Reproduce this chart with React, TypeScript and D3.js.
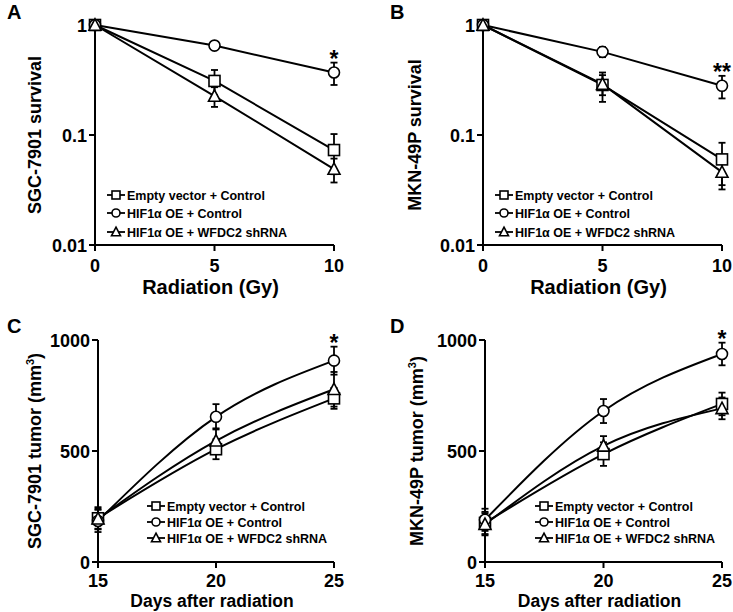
import React from "react";
import * as d3 from "d3";

const xRadiation = [0, 5, 10];
const xDays = [15, 20, 25];
const seriesNames = ["Empty vector + Control", "HIF1α OE + Control", "HIF1α OE + WFDC2 shRNA"];
const markers = ["square", "circle", "triangle"];

// Panel A (SGC-7901 survival)
const aEmpty = [1, 0.31, 0.073];
const aEmptyErr = [0, 0.08, 0.029];
const aHif = [1, 0.65, 0.37];
const aHifErr = [0, 0.03, 0.085];
const aShrna = [1, 0.226, 0.049];
const aShrnaErr = [0, 0.046, 0.012];

// Panel B (MKN-49P survival)
const bEmpty = [1, 0.285, 0.06];
const bEmptyErr = [0, 0.085, 0.025];
const bHif = [1, 0.57, 0.28];
const bHifErr = [0, 0.06, 0.065];
const bShrna = [1, 0.29, 0.046];
const bShrnaErr = [0, 0.06, 0.014];

// Panel C (SGC-7901 tumor)
const cEmpty = [197, 508, 737];
const cEmptyErr = [50, 45, 47];
const cHif = [185, 654, 907];
const cHifErr = [50, 57, 63];
const cShrna = [195, 546, 778];
const cShrnaErr = [45, 56, 78];

// Panel D (MKN-49P tumor)
const dEmpty = [176, 486, 712];
const dEmptyErr = [50, 53, 51];
const dHif = [190, 680, 937];
const dHifErr = [50, 54, 51];
const dShrna = [170, 523, 692];
const dShrnaErr = [50, 44, 49];

const logTicks = [0.01, 0.1, 1];
const logTickLabels = ["0.01", "0.1", "1"];
const linTicks = [0, 500, 1000];
const linTickLabels = ["0", "500", "1000"];

const FONT = "'Liberation Sans', Arial, Helvetica, sans-serif";

function Marker({ type, x, y, s }: { type: string; x: number; y: number; s: number }) {
  const sw = 1.6;
  if (type === "square")
    return <rect x={x - s / 2} y={y - s / 2} width={s} height={s} fill="#fff" stroke="#000" strokeWidth={sw} />;
  if (type === "circle") return <circle cx={x} cy={y} r={s / 2} fill="#fff" stroke="#000" strokeWidth={sw} />;
  const h = s * 0.95;
  const p = d3.path();
  p.moveTo(x, y - h / 2 - 1);
  p.lineTo(x + s / 2 + 0.5, y + h / 2);
  p.lineTo(x - s / 2 - 0.5, y + h / 2);
  p.closePath();
  return <path d={p.toString()} fill="#fff" stroke="#000" strokeWidth={sw} />;
}

type PanelProps = {
  letter: string;
  letterX: number;
  letterY: number;
  xValues: number[];
  xRange: [number, number];
  yLog: boolean;
  yRange: [number, number];
  series: number[][];
  errors: number[][];
  yTicks: number[];
  yTickLabels: string[];
  yTitle: React.ReactNode;
  yTitleX: number;
  xTitle: string;
  xTitleSize: number;
  xTitleDy: number;
  xTickDy: number;
  legendX: number;
  legendY: number[];
  star: string;
  curved: boolean;
};

function Panel(p: PanelProps) {
  const x = d3.scaleLinear().domain([p.xValues[0], p.xValues[p.xValues.length - 1]]).range(p.xRange);
  const y = p.yLog
    ? d3.scaleLog().domain([0.01, 1]).range(p.yRange)
    : d3.scaleLinear().domain([0, 1000]).range(p.yRange);
  const line = d3
    .line<number>()
    .x((_, i) => x(p.xValues[i]))
    .y((d) => y(d))
    .curve(p.curved ? d3.curveMonotoneX : d3.curveLinear);
  const x0 = p.xRange[0];
  const x1 = p.xRange[1];
  const yb = p.yRange[0];
  const yt = p.yRange[1];
  const tick = 6;
  const cap = 3.5;
  const starSeries = 1;
  const lastI = p.xValues.length - 1;
  const starUpper = y(p.series[starSeries][lastI] + p.errors[starSeries][lastI]);
  const yMid = (yb + yt) / 2;
  return (
    <g fontFamily={FONT} fontWeight="bold">
      <text x={p.letterX} y={p.letterY} fontSize={20}>
        {p.letter}
      </text>
      {p.series.map((s, k) => (
        <path key={"l" + k} d={line(s) || ""} fill="none" stroke="#000" strokeWidth={2} />
      ))}
      <line x1={x0} x2={x0} y1={yt} y2={yb} stroke="#000" strokeWidth={2} />
      <line x1={x0 - tick} x2={x1} y1={yb} y2={yb} stroke="#000" strokeWidth={2} />
      {p.yTicks.map((t, i) => (
        <g key={"yt" + i}>
          <line x1={x0 - tick} x2={x0} y1={y(t)} y2={y(t)} stroke="#000" strokeWidth={2} />
          <text x={x0 - 8} y={y(t) + 6.5} fontSize={18} textAnchor="end">
            {p.yTickLabels[i]}
          </text>
        </g>
      ))}
      {p.xValues.map((t, i) => (
        <g key={"xt" + i}>
          <line x1={x(t)} x2={x(t)} y1={yb} y2={yb + tick} stroke="#000" strokeWidth={2} />
          <text x={x(t)} y={yb + p.xTickDy} fontSize={18} textAnchor="middle">
            {t}
          </text>
        </g>
      ))}
      <text x={(x0 + x1) / 2 - 4} y={yb + p.xTitleDy} fontSize={p.xTitleSize} textAnchor="middle">
        {p.xTitle}
      </text>
      <text
        transform={`translate(${p.yTitleX},${yMid}) rotate(-90)`}
        fontSize={18}
        textAnchor="middle"
      >
        {p.yTitle}
      </text>
      {p.series.map((s, k) =>
        s.map((v, i) => {
          const e = p.errors[k][i];
          if (!e) return null;
          const cx = x(p.xValues[i]);
          const lo = y(Math.max(v - e, 0.0001));
          const hi = y(v + e);
          return (
            <g key={"e" + k + "-" + i} stroke="#000" strokeWidth={1.8}>
              <line x1={cx} x2={cx} y1={lo} y2={hi} />
              <line x1={cx - cap} x2={cx + cap} y1={lo} y2={lo} />
              <line x1={cx - cap} x2={cx + cap} y1={hi} y2={hi} />
            </g>
          );
        })
      )}
      {p.series.map((s, k) =>
        s.map((v, i) => (
          <Marker key={"m" + k + "-" + i} type={markers[k]} x={x(p.xValues[i])} y={y(v)} s={11} />
        ))
      )}
      <text x={x(p.xValues[lastI])} y={starUpper + 4} fontSize={23} textAnchor="middle">
        {p.star}
      </text>
      {seriesNames.map((n, k) => (
        <g key={"lg" + k}>
          <line x1={p.legendX} x2={p.legendX + 18} y1={p.legendY[k]} y2={p.legendY[k]} stroke="#000" strokeWidth={1.8} />
          <Marker type={markers[k]} x={p.legendX + 9} y={p.legendY[k]} s={8} />
          <text x={p.legendX + 20} y={p.legendY[k] + 4.5} fontSize={12.5}>
            {n}
          </text>
        </g>
      ))}
    </g>
  );
}

export default function App() {
  return (
    <svg
      width={733}
      height={612}
      style={{ position: "absolute", left: 0, top: 0, background: "#fff" }}
    >
      <rect width={733} height={612} fill="#fff" />
      <Panel
        letter="A"
        letterX={7}
        letterY={19}
        xValues={xRadiation}
        xRange={[95, 334]}
        yLog={true}
        yRange={[245, 25]}
        series={[aEmpty, aHif, aShrna]}
        errors={[aEmptyErr, aHifErr, aShrnaErr]}
        yTicks={logTicks}
        yTickLabels={logTickLabels}
        yTitle="SGC-7901 survival"
        yTitleX={41}
        xTitle="Radiation (Gy)"
        xTitleSize={20}
        xTitleDy={49}
        xTickDy={27}
        legendX={107}
        legendY={[195, 213, 232]}
        star="*"
        curved={false}
      />
      <Panel
        letter="B"
        letterX={390}
        letterY={19}
        xValues={xRadiation}
        xRange={[483, 722]}
        yLog={true}
        yRange={[245, 25]}
        series={[bEmpty, bHif, bShrna]}
        errors={[bEmptyErr, bHifErr, bShrnaErr]}
        yTicks={logTicks}
        yTickLabels={logTickLabels}
        yTitle="MKN-49P survival"
        yTitleX={421}
        xTitle="Radiation (Gy)"
        xTitleSize={20}
        xTitleDy={49}
        xTickDy={27}
        legendX={495}
        legendY={[195, 213, 232]}
        star="**"
        curved={false}
      />
      <Panel
        letter="C"
        letterX={7}
        letterY={333}
        xValues={xDays}
        xRange={[98, 334]}
        yLog={false}
        yRange={[562, 340]}
        series={[cEmpty, cHif, cShrna]}
        errors={[cEmptyErr, cHifErr, cShrnaErr]}
        yTicks={linTicks}
        yTickLabels={linTickLabels}
        yTitle={
          <>
            SGC-7901 tumor (mm
            <tspan fontSize={11} dy={-7}>3</tspan>
            <tspan dy={7}>)</tspan>
          </>
        }
        yTitleX={41}
        xTitle="Days after radiation"
        xTitleSize={17.5}
        xTitleDy={45}
        xTickDy={25}
        legendX={147}
        legendY={[506, 522, 538]}
        star="*"
        curved={true}
      />
      <Panel
        letter="D"
        letterX={390}
        letterY={333}
        xValues={xDays}
        xRange={[485, 722]}
        yLog={false}
        yRange={[562, 340]}
        series={[dEmpty, dHif, dShrna]}
        errors={[dEmptyErr, dHifErr, dShrnaErr]}
        yTicks={linTicks}
        yTickLabels={linTickLabels}
        yTitle={
          <>
            MKN-49P tumor (mm
            <tspan fontSize={11} dy={-7}>3</tspan>
            <tspan dy={7}>)</tspan>
          </>
        }
        yTitleX={423}
        xTitle="Days after radiation"
        xTitleSize={17.5}
        xTitleDy={45}
        xTickDy={25}
        legendX={535}
        legendY={[506, 522, 538]}
        star="*"
        curved={true}
      />
    </svg>
  );
}
